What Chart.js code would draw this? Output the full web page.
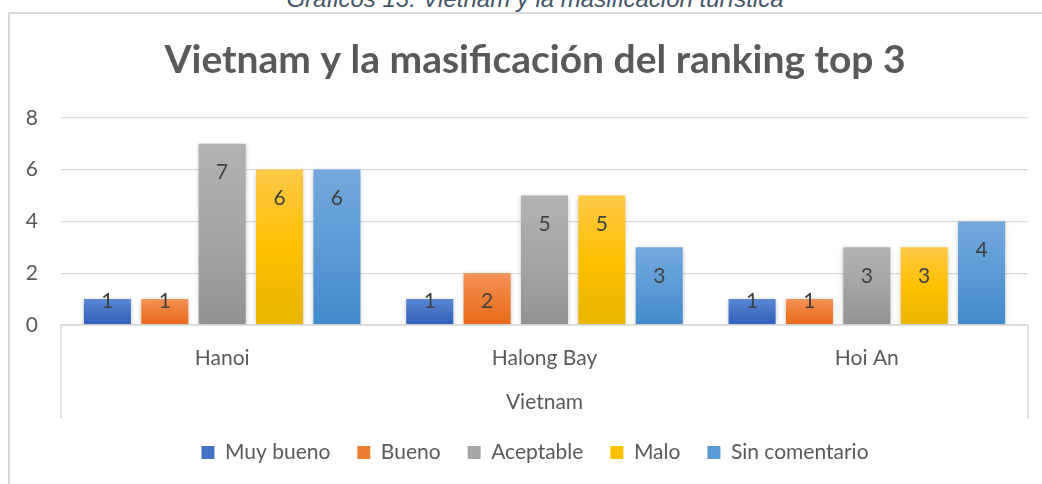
<!DOCTYPE html>
<html>
<head>
<meta charset="utf-8">
<title>Vietnam y la masificación del ranking top 3</title>
<script src="https://cdn.jsdelivr.net/npm/chart.js@4.4.1/dist/chart.umd.min.js"></script>
<style>
    html, body { margin: 0; padding: 0; background: #fff; overflow: hidden; }
    #wrap { position: relative; width: 1042px; height: 484px; overflow: hidden; }
    #frame { position: absolute; left: 8px; top: 12px; width: 1060px; height: 500px; border: 2px solid #d9d9d9; box-sizing: border-box; }
    #caption { position: absolute; left: 14px; width: 1042px; top: -13px; text-align: center;
        font: italic 24px "Liberation Sans", Arial, sans-serif; line-height: 24px; color: #44546a; white-space: nowrap; }
    #chart { position: absolute; left: 10px; top: 0; }
</style>
</head>
<body>
<div id="wrap">
    <div id="frame"></div>
    <div id="caption">Gráficos 13. Vietnam y la masificación turística</div>
    <canvas id="chart" width="1050" height="484"></canvas>
</div>
<script>
// Chart data
const categories = ['Hanoi', 'Halong Bay', 'Hoi An'];
const groupLabel = 'Vietnam';
const muyBueno = [1, 1, 1];
const bueno = [1, 2, 1];
const aceptable = [7, 5, 3];
const malo = [6, 5, 3];
const sinComentario = [6, 3, 4];
const yMax = 8;
const yStep = 2;

const FONT = 'Lato, "Open Sans", sans-serif';
const TEXT = '#595959';
const LINE = '#d9d9d9';

// Vertical gradient per bar, like the Excel fill
function barGradient(top, mid, bottom) {
    return function (context) {
        const chart = context.chart;
        const area = chart.chartArea;
        if (!area || context.type !== 'data') return mid;
        const y = chart.scales.y;
        const y1 = y.getPixelForValue(context.raw);
        const y0 = y.getPixelForValue(0);
        if (y0 - y1 < 1) return mid;
        const g = chart.ctx.createLinearGradient(0, y1, 0, y0);
        g.addColorStop(0, top);
        g.addColorStop(0.5, mid);
        g.addColorStop(1, bottom);
        return g;
    };
}

function series(label, data, colors) {
    return {
        label: label,
        data: data,
        legendColor: colors[1],
        backgroundColor: barGradient(colors[0], colors[1], colors[2]),
        borderWidth: 0,
        categoryPercentage: 0.89,
        barPercentage: 0.82
    };
}

// Soft shadow under the bars
const shadowPlugin = {
    id: 'barShadow',
    beforeDatasetsDraw(chart) {
        const ctx = chart.ctx;
        ctx.save();
        ctx.shadowColor = 'rgba(0,0,0,0.28)';
        ctx.shadowBlur = 5;
        ctx.shadowOffsetX = 0;
        ctx.shadowOffsetY = 1;
    },
    afterDatasetsDraw(chart) {
        chart.ctx.restore();
    }
};

// Axis box lines and value labels
const extrasPlugin = {
    id: 'extras',
    afterDraw(chart) {
        const ctx = chart.ctx;
        const area = chart.chartArea;
        ctx.save();
        ctx.strokeStyle = LINE;
        ctx.lineWidth = 1.5;
        ctx.beginPath();
        ctx.moveTo(area.left, area.bottom);
        ctx.lineTo(area.left, area.bottom + 93);
        ctx.moveTo(area.right, area.bottom);
        ctx.lineTo(area.right, area.bottom + 93);
        ctx.moveTo(area.left, area.bottom);
        ctx.lineTo(area.right, area.bottom);
        ctx.stroke();

        ctx.fillStyle = '#404040';
        ctx.font = '21px ' + FONT;
        ctx.textAlign = 'center';
        ctx.textBaseline = 'middle';
        chart.data.datasets.forEach((ds, i) => {
            chart.getDatasetMeta(i).data.forEach((bar, j) => {
                const y = Math.min(bar.y + 29, bar.base - 23);
                ctx.fillText(String(ds.data[j]), bar.x, y);
            });
        });
        ctx.restore();
    }
};

const ctx = document.getElementById('chart').getContext('2d');
const chart = new Chart(ctx, {
    type: 'bar',
    data: {
        labels: categories,
        datasets: [
            series('Muy bueno', muyBueno, ['#5b87d8', '#4472c4', '#2f5fbf']),
            series('Bueno', bueno, ['#f4925a', '#ed7d31', '#e8691b']),
            series('Aceptable', aceptable, ['#b2b2b2', '#a5a5a5', '#929292']),
            series('Malo', malo, ['#ffc947', '#ffc000', '#e7b500']),
            series('Sin comentario', sinComentario, ['#74a9de', '#5b9bd5', '#428acb'])
        ]
    },
    options: {
        responsive: false,
        animation: false,
        devicePixelRatio: 1,
        layout: { padding: { top: 0, left: 0, right: 0, bottom: 11 } },
        plugins: {
            title: {
                display: true,
                text: 'Vietnam y la masificación del ranking top 3',
                color: TEXT,
                font: { family: FONT, size: 39, weight: 'bold', lineHeight: 1.2 },
                padding: { top: 37, bottom: 34 }
            },
            legend: {
                position: 'bottom',
                labels: {
                    color: TEXT,
                    font: { family: FONT, size: 21 },
                    boxWidth: 13,
                    boxHeight: 13,
                    padding: 27,
                    generateLabels(chart) {
                        return chart.data.datasets.map((ds, i) => ({
                            text: ds.label,
                            fillStyle: ds.legendColor,
                            strokeStyle: ds.legendColor,
                            lineWidth: 0,
                            fontColor: TEXT,
                            hidden: !chart.isDatasetVisible(i),
                            datasetIndex: i
                        }));
                    }
                }
            },
            tooltip: { enabled: false }
        },
        scales: {
            x: {
                grid: { display: false, drawTicks: false },
                border: { display: false },
                ticks: { color: TEXT, font: { family: FONT, size: 21 }, padding: 21 },
                title: {
                    display: true,
                    text: groupLabel,
                    color: TEXT,
                    font: { family: FONT, size: 21 },
                    padding: { top: 0, bottom: 0 }
                },
                afterFit(scale) { scale.height = 90; }
            },
            y: {
                min: 0,
                max: yMax,
                ticks: { stepSize: yStep, color: TEXT, font: { family: FONT, size: 21 }, padding: 23 },
                grid: { color: LINE, lineWidth: 1.3, drawTicks: false },
                border: { display: false },
                afterFit(scale) { scale.width = 51; }
            },
            y2: {
                position: 'right',
                display: true,
                grid: { display: false, drawTicks: false },
                border: { display: false },
                ticks: { display: false },
                afterFit(scale) { scale.width = 32; }
            }
        }
    },
    plugins: [shadowPlugin, extrasPlugin]
});
</script>
</body>
</html>
